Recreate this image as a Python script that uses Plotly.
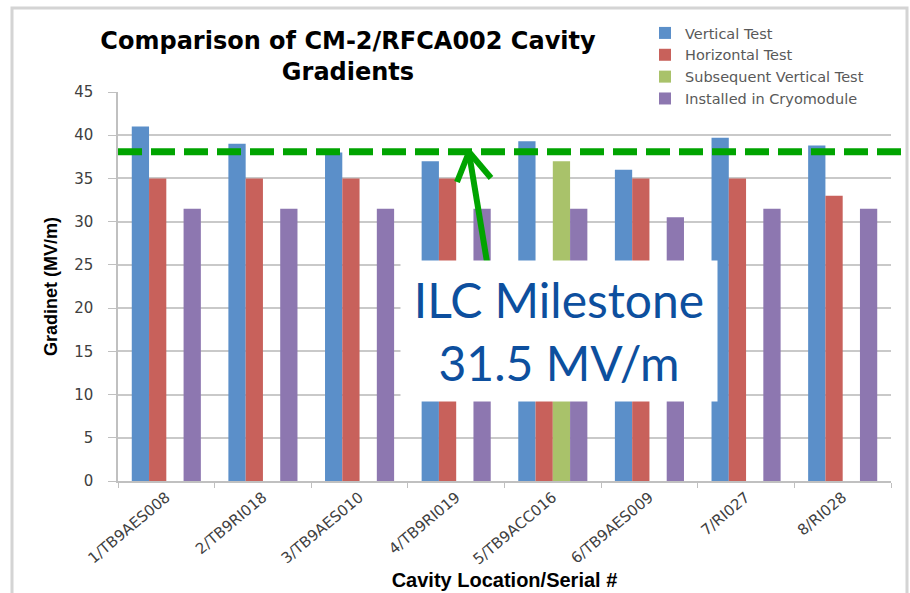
import plotly.graph_objects as go

categories = ["1/TB9AES008", "2/TB9RI018", "3/TB9AES010", "4/TB9RI019",
              "5/TB9ACC016", "6/TB9AES009", "7/RI027", "8/RI028"]
vertical_test = [41.0, 39.0, 38.0, 37.0, 39.3, 36.0, 39.7, 38.8]
horizontal_test = [35.0, 35.0, 35.0, 35.0, 20.0, 35.0, 35.0, 33.0]
subsequent_vertical = [None, None, None, None, 37.0, None, None, None]
installed_cryomodule = [31.5, 31.5, 31.5, 31.5, 31.5, 30.5, 31.5, 31.5]
milestone_line = 38.1

series = [
    ("Vertical Test", vertical_test, "#5b8fc9"),
    ("Horizontal Test", horizontal_test, "#c8615b"),
    ("Subsequent Vertical Test", subsequent_vertical, "#a9c26a"),
    ("Installed in Cryomodule", installed_cryomodule, "#8d77b0"),
]

fig = go.Figure()
for i, (name, vals, col) in enumerate(series):
    fig.add_trace(go.Bar(x=categories, y=vals, name=name, marker_color=col,
                         marker_line_width=0, legendgroup="g%d" % i))

# plot area pixel geometry helpers (for decorations only)
L, R, T, B = 118, 891, 92, 481
def px(x):
    return (x - L) / (R - L)
def py(y):
    return (B - y) / (B - T)

shapes = [
    # outer frame
    dict(type="rect", xref="paper", yref="paper", x0=px(12), x1=px(907), y0=py(620), y1=py(8),
         line=dict(color="#d4d4d4", width=3), fillcolor="rgba(0,0,0,0)", layer="below"),
    # dashed milestone line
    dict(type="line", xref="paper", yref="y", x0=0, x1=px(912), y0=milestone_line, y1=milestone_line,
         line=dict(color="#00a400", width=7, dash="24px,9px")),
    # arrow shaft
    dict(type="line", xref="paper", yref="paper", x0=px(487), y0=py(262), x1=px(469), y1=py(153),
         line=dict(color="#00a400", width=6)),
    dict(type="line", xref="paper", yref="paper", x0=px(457), y0=py(182), x1=px(469), y1=py(152),
         line=dict(color="#00a400", width=6)),
    dict(type="line", xref="paper", yref="paper", x0=px(491), y0=py(178), x1=px(469), y1=py(152),
         line=dict(color="#00a400", width=6)),
]

annotations = [
    dict(xref="paper", yref="paper", x=px(559), y=py(331), xanchor="center", yanchor="middle",
         text="ILC Milestone<br>31.5 MV/m", showarrow=False, bgcolor="white",
         width=314, height=138,
         font=dict(family="Lato, Open Sans, sans-serif", size=48, color="#0d4f9e")),
]

fig.update_layout(
    width=910, height=593,
    margin=dict(l=L, r=910 - R, t=T, b=593 - B, autoexpand=False),
    paper_bgcolor="white", plot_bgcolor="white",
    barmode="group", bargap=0.285, bargroupgap=0,
    title=dict(text="<b>Comparison of CM-2/RFCA002 Cavity<br>Gradients</b>",
               x=348 / 910, xanchor="center", xref="container",
               y=1 - 49 / 593, yanchor="top",
               font=dict(family="DejaVu Sans", size=24, color="#000000")),
    legend=dict(x=px(645), y=py(17), xanchor="left", yanchor="top",
                bgcolor="rgba(0,0,0,0)", tracegroupgap=0, itemwidth=30,
                font=dict(family="DejaVu Sans", size=14.5, color="#595959")),
    shapes=shapes, annotations=annotations,
    showlegend=True,
)
fig.update_yaxes(range=[0, 45], dtick=5, showgrid=True, gridcolor="#c9c9c9", gridwidth=1.5,
                 showline=True, linecolor="#c0c0c0", linewidth=1.5,
                 ticks="outside", ticklen=8, tickcolor="#c0c0c0", ticklabelstandoff=12,
                 tickfont=dict(family="DejaVu Sans", size=15, color="#404040"),
                 automargin=False,
                 title=dict(text="<b>Gradinet (MV/m)</b>", standoff=12,
                            font=dict(family="Liberation Sans Narrow, Liberation Sans", size=18, color="#000")),
                 zeroline=False)
fig.update_xaxes(showline=True, linecolor="#c0c0c0", linewidth=1.5,
                 ticks="outside", tickson="boundaries", ticklen=5, tickcolor="#c0c0c0",
                 tickangle=-40, automargin=False,
                 tickfont=dict(family="DejaVu Sans", size=15, color="#404040"),
                 title=dict(text="<b>Cavity Location/Serial #</b>", standoff=6,
                            font=dict(family="Liberation Sans", size=20, color="#000")))

fig.write_html("out.html", config={"displayModeBar": False},
               post_script="document.body.style.margin='0';")
